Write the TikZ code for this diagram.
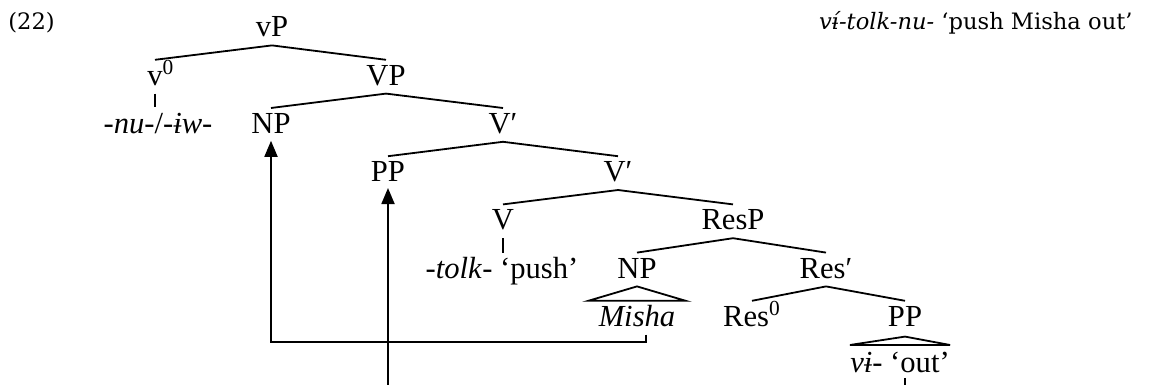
\documentclass[tikz,border=0pt]{standalone}
\usepackage{fontspec}
\setmainfont{Liberation Serif}
\newfontfamily\glossfont{DejaVu Serif}
\usetikzlibrary{positioning, arrows.meta}

\tikzstyle{cat} = [inner sep=0pt, text height=10pt, text depth=0pt, font=\fontsize{15.3}{18}\selectfont]
\tikzstyle{gloss} = [inner sep=0pt, font=\glossfont\fontsize{11.3}{14}\selectfont]
\tikzstyle{branch} = [line width=0.9pt]
\tikzstyle{move} = [line width=0.9pt, -{Triangle[width=6.5pt,length=8pt]}]

\begin{document}
\begin{tikzpicture}[node distance=24.1pt and 57.5pt, on grid]
	\useasboundingbox (0,0) rectangle (575.5pt,-192.5pt);
	
	% number and translation
	\node[gloss, anchor=base west] (exnum) at (4pt,-15pt) {(22)};
	\node[gloss, anchor=base east] (transl) at (566.5pt,-15pt) {\textit{vɨ́-tolk-nu-} ‘push Misha out’};
	
	% vP and VP
	\node[cat] (vP) at (136pt,-13.5pt) {vP};
	\node[cat, below left=24.1pt and 58.5pt of vP] (v0) {v\rlap{\textsuperscript{0}}};
	\node[cat, below right=24.1pt and 57pt of vP] (VP) {VP};
	\node[cat, below=of v0, xshift=1.5pt] (nuiw) {-\textit{nu}-/-\textit{ɨw}-};
	
	% specifiers and V-bars
	\node[cat, below left=of VP] (NPa) {NP};
	\node[cat, below right=24.1pt and 58.5pt of VP] (Vbara) {V′};
	\node[cat, below left=of Vbara] (PPa) {PP};
	\node[cat, below right=of Vbara] (Vbarb) {V′};
	\node[cat, below left=of Vbarb] (V) {V};
	\node[cat, below right=of Vbarb] (ResP) {ResP};
	\node[cat, below=of V, xshift=-0.5pt] (tolk) {-\textit{tolk}- ‘push’};
	
	% result phrase
	\node[cat, below left=24.1pt and 48pt of ResP] (NPb) {NP};
	\node[cat, below right=24.1pt and 46.5pt of ResP] (Resbar) {Res′};
	\node[cat, below left=24.1pt and 37pt of Resbar] (Res0) {Res\textsuperscript{0}};
	\node[cat, below right=24.1pt and 39.5pt of Resbar] (PPb) {PP};
	\node[cat, below=of NPb, inner xsep=5pt] (misha) {\textit{Misha}};
	\node[cat, below=of PPb, xshift=-2.5pt, yshift=1pt] (out) {\textit{vɨ}- ‘out’};
	
	% branches
	\foreach \mother/\daughter in {vP/v0, vP/VP, VP/NPa, VP/Vbara, Vbara/PPa, Vbara/Vbarb,
		Vbarb/V, Vbarb/ResP, ResP/NPb, ResP/Resbar, Resbar/Res0, Resbar/PPb}
		\draw[branch] ([yshift=-4pt]\mother.south) -- ([yshift=2.5pt]\daughter.north);
	\draw[branch] ([yshift=-4pt]v0.south) -- ([yshift=3pt]nuiw.north -| v0.south);
	\draw[branch] ([yshift=-4pt]V.south) -- ([yshift=2.5pt]tolk.north -| V.south);
	
	% triangles
	\draw[branch] ([yshift=-4pt]NPb.south) -- ([yshift=2.5pt]misha.north east) -- ([yshift=2.5pt]misha.north west) -- cycle;
	\draw[branch] ([yshift=-5pt]PPb.south) -- ([yshift=3.5pt]out.north east) -- ([yshift=3.5pt]out.north west) -- cycle;
	
	% movement
	\coordinate (edge) at (0,-194pt);
	\draw[move] ([xshift=4.5pt,yshift=-4pt]misha.south) -- ++(0,-3.5pt) -| ([yshift=-3.5pt]NPa.south);
	\draw[move] (PPa.south |- edge) -- ([yshift=-3pt]PPa.south);
	\draw[branch] ([yshift=-2.5pt]out.south -| PPb.south) -- (PPb.south |- edge);
	
\end{tikzpicture}
\end{document}
